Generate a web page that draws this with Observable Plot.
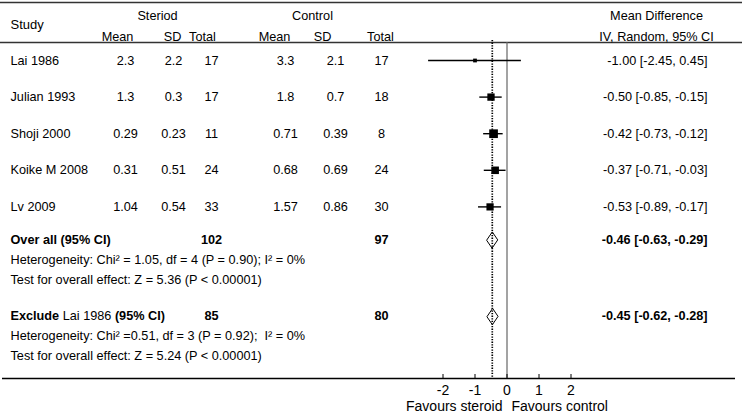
<!DOCTYPE html>
<html><head><meta charset="utf-8">
<script src="https://cdn.jsdelivr.net/npm/d3@7"></script>
<script src="https://cdn.jsdelivr.net/npm/@observablehq/plot@0.6"></script>
<style>
html,body{margin:0;padding:0;background:#fff;}
#chart svg{display:block;}
</style></head><body><div id="chart"></div>
<script>
// ---------- data ----------
const studies = ["Lai 1986", "Julian 1993", "Shoji 2000", "Koike M 2008", "Lv 2009"];
const steroidMean = [2.3, 1.3, 0.29, 0.31, 1.04];
const steroidSD = [2.2, 0.3, 0.23, 0.51, 0.54];
const steroidN = [17, 17, 11, 24, 33];
const controlMean = [3.3, 1.8, 0.71, 0.68, 1.57];
const controlSD = [2.1, 0.7, 0.39, 0.69, 0.86];
const controlN = [17, 18, 8, 24, 30];
const mdEst = [-1.00, -0.50, -0.42, -0.37, -0.53];
const mdLow = [-2.45, -0.85, -0.73, -0.71, -0.89];
const mdHigh = [0.45, -0.15, -0.12, -0.03, -0.17];

const summaryLabels = ["Over all (95% CI)", "Exclude Lai 1986 (95% CI)"];
const summarySteroidN = [102, 85];
const summaryControlN = [97, 80];
const summaryEst = [-0.46, -0.45];
const summaryLow = [-0.63, -0.62];
const summaryHigh = [-0.29, -0.28];
const heterogeneityTexts = [
  "Heterogeneity: Chi\u00b2 = 1.05, df = 4 (P = 0.90); I\u00b2 = 0%",
  "Heterogeneity: Chi\u00b2 =0.51, df = 3 (P = 0.92);  I\u00b2 = 0%"
];
const testTexts = [
  "Test for overall effect: Z = 5.36 (P < 0.00001)",
  "Test for overall effect: Z = 5.24 (P < 0.00001)"
];
const xTicks = [-2, -1, 0, 1, 2];
const favours = ["Favours steroid", "Favours control"];

// ---------- layout ----------
const W = 744, H = 415, ML = 2, MR = 9;
const FONT = "'Liberation Sans', Arial, Helvetica, sans-serif";
const FS = 12.7;
const ROW0 = 60, STUDY_STEP = 36.6, SUM_GAP = 33, LINE_STEP = 20, GROUP_GAP = 36.5;
const Y_TOP_RULE = 2, Y_HEAD_RULE = 42, Y_AXIS = 378;
const Y_GROUP_HEAD = 15.5, Y_SUB_HEAD = 36.5, Y_STUDY_HEAD = 24;
const Y_TICK_LABEL = 390, Y_FAVOURS = 406;
const COL = {study: 10, m1: 125, sd1: 173, n1: 211, m2: 285, sd2: 335, n2: 381, est: 707};
const HEAD = {steroid: 157, control: 312, m1: 117, sd1: 172, n1: 202, m2: 274, sd2: 322, n2: 380, md: 656};
const DIAMOND_HALF = 8;

const weights = studies.map((_, i) =>
  1 / (steroidSD[i] ** 2 / steroidN[i] + controlSD[i] ** 2 / controlN[i]));

const studyRows = studies.map((s, i) => ({
  study: s, m1: steroidMean[i], sd1: steroidSD[i], n1: steroidN[i],
  m2: controlMean[i], sd2: controlSD[i], n2: controlN[i],
  est: mdEst[i], lo: mdLow[i], hi: mdHigh[i], w: weights[i],
  y: ROW0 + i * STUDY_STEP
}));
const lastStudyY = studyRows[studyRows.length - 1].y;

const summaryRows = [], hetRows = [], testRows = [];
let yCur = lastStudyY + SUM_GAP;
summaryLabels.forEach((lab, g) => {
  summaryRows.push({label: lab, n1: summarySteroidN[g], n2: summaryControlN[g],
    est: summaryEst[g], lo: summaryLow[g], hi: summaryHigh[g], y: yCur});
  hetRows.push({text: heterogeneityTexts[g], y: yCur + LINE_STEP});
  testRows.push({text: testTexts[g], y: yCur + 2 * LINE_STEP});
  yCur += 2 * LINE_STEP + GROUP_GAP;
});

const diamondPts = summaryRows.flatMap((r, g) => [
  {g, x: r.lo, y: r.y}, {g, x: r.est, y: r.y - DIAMOND_HALF},
  {g, x: r.hi, y: r.y}, {g, x: r.est, y: r.y + DIAMOND_HALF}
]);

const ciText = r => `${r.est.toFixed(2)} [${r.lo.toFixed(2)}, ${r.hi.toFixed(2)}]`;

function col(data, text, x, anchor, opts = {}) {
  return Plot.text(data, {text, y: "y", frameAnchor: "left", dx: x - ML,
    textAnchor: anchor, fontSize: FS, ...opts});
}
function head(label, x, y, anchor = "middle", opts = {}) {
  return Plot.text([label], {text: d => d, y: () => y, frameAnchor: "left", dx: x - ML,
    textAnchor: anchor, fontSize: FS, ...opts});
}

const chart = Plot.plot({
  width: W, height: H,
  marginLeft: ML, marginRight: MR, marginTop: 0, marginBottom: 0,
  style: {fontFamily: FONT, color: "black", background: "white", overflow: "visible"},
  x: {domain: [-2, 2], range: [442.5, 570.5], axis: null},
  y: {domain: [0, H], range: [0, H], axis: null},
  r: {type: "linear", domain: [0, d3.max(weights)], range: [2.0, 4.9]},
  marks: [
    // table rules
    Plot.ruleY([Y_TOP_RULE], {stroke: "#333", strokeWidth: 1.5, insetLeft: -ML, insetRight: -(MR - 2)}),
    Plot.ruleY([Y_HEAD_RULE], {stroke: "#333", strokeWidth: 1.5, insetLeft: -ML, insetRight: -(MR - 2)}),
    Plot.ruleY([Y_AXIS], {stroke: "black", strokeWidth: 1.3}),
    // header
    head("Study", COL.study, Y_STUDY_HEAD, "start", {fontSize: 13}),
    head("Steriod", HEAD.steroid, Y_GROUP_HEAD),
    head("Control", HEAD.control, Y_GROUP_HEAD),
    head("Mean", HEAD.m1, Y_SUB_HEAD),
    head("SD", HEAD.sd1, Y_SUB_HEAD),
    head("Total", HEAD.n1, Y_SUB_HEAD),
    head("Mean", HEAD.m2, Y_SUB_HEAD),
    head("SD", HEAD.sd2, Y_SUB_HEAD),
    head("Total", HEAD.n2, Y_SUB_HEAD),
    head("Mean Difference", HEAD.md, Y_GROUP_HEAD),
    head("IV, Random, 95% CI", HEAD.md, Y_SUB_HEAD),
    // study rows
    col(studyRows, "study", COL.study, "start"),
    col(studyRows, d => String(d.m1), COL.m1, "middle"),
    col(studyRows, d => String(d.sd1), COL.sd1, "middle"),
    col(studyRows, d => String(d.n1), COL.n1, "middle"),
    col(studyRows, d => String(d.m2), COL.m2, "middle"),
    col(studyRows, d => String(d.sd2), COL.sd2, "middle"),
    col(studyRows, d => String(d.n2), COL.n2, "middle"),
    col(studyRows, ciText, COL.est, "end"),
    // summary rows
    col(summaryRows, "label", COL.study, "start", {fontWeight: "bold"}),
    col(summaryRows, d => String(d.n1), COL.n1, "middle", {fontWeight: "bold"}),
    col(summaryRows, d => String(d.n2), COL.n2, "middle", {fontWeight: "bold"}),
    col(summaryRows, ciText, COL.est, "end", {fontWeight: "bold"}),
    col(hetRows, "text", COL.study, "start"),
    col(testRows, "text", COL.study, "start"),
    // forest plot
    Plot.line(diamondPts, {x: "x", y: "y", z: "g", curve: "linear-closed",
      fill: "white", stroke: "black", strokeWidth: 1}),
    Plot.ruleX([summaryEst[0]], {y1: Y_HEAD_RULE - 2, y2: Y_AXIS, stroke: "black",
      strokeWidth: 1.7, strokeDasharray: "1.3,1.3"}),
    Plot.ruleX([0], {y1: Y_HEAD_RULE, y2: Y_AXIS, stroke: "#666", strokeWidth: 1.2}),
    Plot.ruleY(studyRows, {y: "y", x1: "lo", x2: "hi", stroke: "black", strokeWidth: 1.4}),
    Plot.dot(studyRows, {x: "est", y: "y", r: "w", symbol: "square", fill: "black", stroke: null}),
    // axis
    Plot.ruleX(xTicks, {x: d => d, y1: Y_AXIS - 4, y2: Y_AXIS, stroke: "black", strokeWidth: 1}),
    Plot.text(xTicks, {x: d => d, y: () => Y_TICK_LABEL, text: d => String(d), fontSize: 14}),
    Plot.text([favours[0]], {x: () => 0, y: () => Y_FAVOURS, text: d => d, textAnchor: "end", dx: -4.5, fontSize: 14}),
    Plot.text([favours[1]], {x: () => 0, y: () => Y_FAVOURS, text: d => d, textAnchor: "start", dx: 4.5, fontSize: 14})
  ]
});

// mixed-weight label: "Exclude" and "(95% CI)" bold, study name regular
d3.select(chart).selectAll("text")
  .filter(function () { return this.textContent === summaryLabels[1]; })
  .each(function () {
    const t = d3.select(this);
    t.text(null);
    t.append("tspan").text("Exclude");
    t.append("tspan").attr("font-weight", "normal").text(" Lai 1986 ");
    t.append("tspan").text("(95% CI)");
  });

document.getElementById("chart").appendChild(chart);
</script>
</body></html>
